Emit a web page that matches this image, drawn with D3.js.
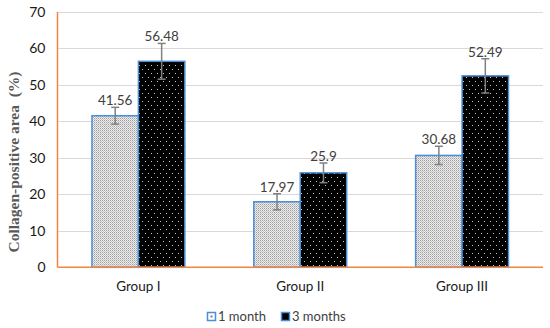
<!DOCTYPE html>
<html><head><meta charset="utf-8">
<script src="https://cdn.jsdelivr.net/npm/d3@7"></script>
<style>body{margin:0;background:#fff}svg{display:block}</style>
</head><body>
<svg id="c" width="550" height="328"></svg>
<script>
const categories = ["Group I", "Group II", "Group III"];
const seriesNames = ["1 month", "3 months"];
const oneMonth = [41.56, 17.97, 30.68];
const threeMonths = [56.48, 25.9, 52.49];
const oneMonthErr = [2.3, 2.2, 2.5];
const threeMonthsErr = [4.9, 2.7, 4.7];
const yTicks = [0, 10, 20, 30, 40, 50, 60, 70];

(function () {
const svg = d3.select("#c");
const defs = svg.append("defs");
// fine gray pattern
const p1 = defs.append("pattern").attr("id","pat1").attr("patternUnits","userSpaceOnUse").attr("width",2).attr("height",2);
p1.append("rect").attr("width",2).attr("height",2).attr("fill","#ededed");
p1.append("rect").attr("x",0).attr("y",0).attr("width",1).attr("height",1).attr("fill","#9e9e9e");
p1.append("rect").attr("x",1).attr("y",1).attr("width",1).attr("height",1).attr("fill","#c4c4c4");
// black with white dots
const p2 = defs.append("pattern").attr("id","pat2").attr("patternUnits","userSpaceOnUse").attr("width",6).attr("height",8);
p2.append("rect").attr("width",6).attr("height",8).attr("fill","#000");
p2.append("rect").attr("x",1).attr("y",1).attr("width",1).attr("height",1).attr("fill","#c8c8c8");
p2.append("rect").attr("x",4).attr("y",5).attr("width",1).attr("height",1).attr("fill","#c8c8c8");

const mLeft = 57.5, mRight = 543, mTop = 12, mBottom = 267.3;
const x = d3.scaleBand().domain(categories).range([mLeft, mRight]).padding(0);
const y = d3.scaleLinear().domain([0, 70]).range([mBottom, mTop]);
const barW = x.bandwidth() * 0.287;

// gridlines
svg.append("g").selectAll("line").data(yTicks.filter(d => d > 0)).join("line")
  .attr("x1", mLeft + 1).attr("x2", mRight)
  .attr("y1", d => Math.round(y(d)) + 0.5).attr("y2", d => Math.round(y(d)) + 0.5)
  .attr("stroke", "#d9d9d9").attr("stroke-width", 1);

// y axis labels
const yAxis = d3.axisLeft(y).tickValues(yTicks).tickSize(0).tickPadding(12);
const ga = svg.append("g").attr("transform", `translate(${mLeft},0)`).call(yAxis);
ga.select(".domain").remove();
ga.selectAll("text").attr("font-family", "Lato, 'Open Sans', sans-serif").attr("font-size", 14).attr("fill", "#1a1a1a");

const series = [
  {name: seriesNames[0], vals: oneMonth, errs: oneMonthErr, fill: "url(#pat1)", off: -1},
  {name: seriesNames[1], vals: threeMonths, errs: threeMonthsErr, fill: "url(#pat2)", off: 0}
];

const g = svg.append("g");
series.forEach(s => {
  categories.forEach((c, i) => {
    const cx = x(c) + x.bandwidth() / 2;
    const x0 = cx + s.off * barW;
    const v = s.vals[i];
    g.append("rect").attr("x", x0).attr("y", y(v)).attr("width", barW).attr("height", y(0) - y(v))
      .attr("fill", s.fill).attr("stroke", "#4a8fd9").attr("stroke-width", 1.5);
  });
});
series.forEach(s => {
  categories.forEach((c, i) => {
    const cx = x(c) + x.bandwidth() / 2;
    const mx = cx + s.off * barW + barW / 2;
    const v = s.vals[i], e = s.errs[i];
    const eb = g.append("g").attr("stroke", "#808080").attr("stroke-width", 1.5);
    eb.append("line").attr("x1", mx).attr("x2", mx).attr("y1", y(v + e)).attr("y2", y(v - e));
    eb.append("line").attr("x1", mx - 4).attr("x2", mx + 4).attr("y1", y(v + e)).attr("y2", y(v + e));
    eb.append("line").attr("x1", mx - 4).attr("x2", mx + 4).attr("y1", y(v - e)).attr("y2", y(v - e));
    g.append("text").attr("x", mx).attr("y", y(v + e) - 2).attr("text-anchor", "middle")
      .attr("font-family", "Lato, 'Open Sans', sans-serif").attr("font-size", 13.5).attr("fill", "#404040")
      .text(v);
  });
});

// axes lines (orange)
svg.append("line").attr("x1", mLeft).attr("x2", mLeft).attr("y1", mTop).attr("y2", mBottom).attr("stroke", "#f4853e").attr("stroke-width", 1.5);
svg.append("line").attr("x1", mLeft).attr("x2", mRight).attr("y1", mBottom).attr("y2", mBottom).attr("stroke", "#f4853e").attr("stroke-width", 1.5);

// x labels
const xAxis = d3.axisBottom(x).tickSize(0).tickPadding(14);
const gx = svg.append("g").attr("transform", `translate(0,${mBottom})`).call(xAxis);
gx.select(".domain").remove();
gx.selectAll("text").attr("font-family", "Lato, 'Open Sans', sans-serif").attr("font-size", 13.5).attr("fill", "#1a1a1a");

// y title
svg.append("text").attr("transform", "translate(19,162) rotate(-90)").attr("text-anchor", "middle")
  .attr("font-family", "'Liberation Serif', 'DejaVu Serif', serif").attr("font-weight", "bold")
  .attr("font-size", 15.5).attr("fill", "#595959").attr("xml:space","preserve").text("Collagen-positive area  (%)");

// legend
const lg = svg.append("g").attr("transform", "translate(207,312)");
const items = [{name: seriesNames[0], fill: "#ffffff", dot: "#7f7f7f", dx: 0}, {name: seriesNames[1], fill: "#000000", dot: "#000000", dx: 74}];
items.forEach(it => {
  const gi = lg.append("g").attr("transform", `translate(${it.dx},0)`);
  gi.append("rect").attr("x", 0.5).attr("y", 0.5).attr("width", 8).attr("height", 8)
    .attr("fill", it.fill).attr("stroke", "#4a8fd9").attr("stroke-width", 1.5);
  gi.append("rect").attr("x", 3.5).attr("y", 3.5).attr("width", 2).attr("height", 2).attr("fill", it.dot);
  gi.append("text").attr("x", 11).attr("y", 9).attr("font-family", "Lato, 'Open Sans', sans-serif")
    .attr("font-size", 13).attr("fill", "#404040").text(it.name);
});
})();
</script>
</body></html>
